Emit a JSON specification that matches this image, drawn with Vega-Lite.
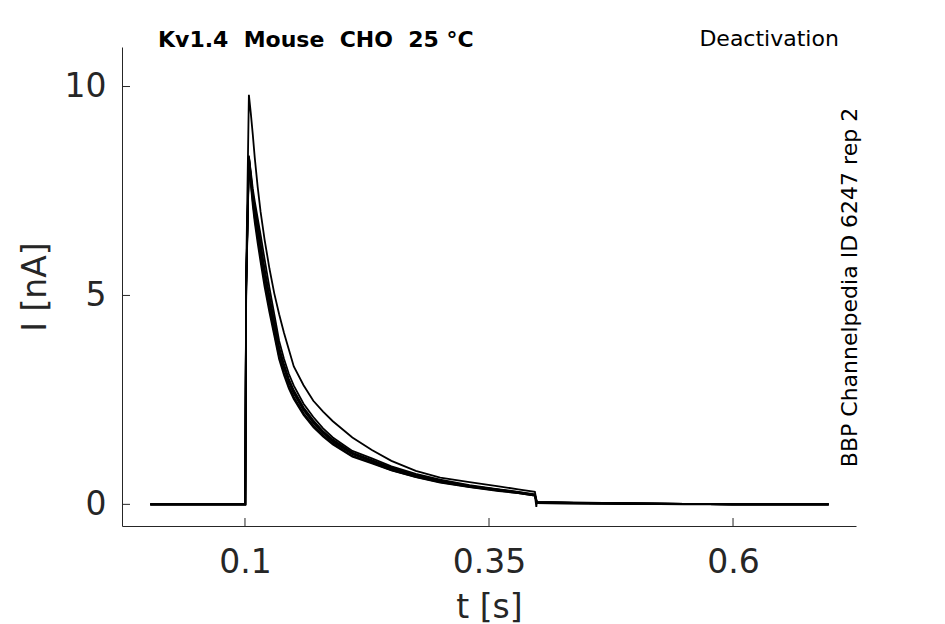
{
  "$schema": "https://vega.github.io/schema/vega-lite/v6.json",
  "autosize": "none",
  "width": 734,
  "height": 479,
  "padding": {"left": 122, "top": 47, "right": 89, "bottom": 98},
  "background": "white",
  "config": {
    "view": {"stroke": null},
    "font": "DejaVu Sans",
    "axis": {
      "grid": false,
      "ticks": false,
      "domainColor": "#262626",
      "labelColor": "#262626",
      "titleColor": "#262626",
      "labelFont": "DejaVu Sans",
      "titleFont": "DejaVu Sans",
      "labelFontSize": 33,
      "titleFontSize": 33,
      "titleFontWeight": "normal",
      "domainWidth": 1
    }
  },
  "datasets": {
    "traces": [
      {"trace": "a", "t": 0.003, "i": 0}, {"trace": "a", "t": 0.1003, "i": 0}, {"trace": "a", "t": 0.1012, "i": 5.5},
      {"trace": "a", "t": 0.104, "i": 9.8}, {"trace": "a", "t": 0.106, "i": 9.35}, {"trace": "a", "t": 0.108, "i": 8.85},
      {"trace": "a", "t": 0.11, "i": 8.3}, {"trace": "a", "t": 0.113, "i": 7.6}, {"trace": "a", "t": 0.116, "i": 7.0},
      {"trace": "a", "t": 0.12, "i": 6.35}, {"trace": "a", "t": 0.125, "i": 5.65}, {"trace": "a", "t": 0.13, "i": 5.05},
      {"trace": "a", "t": 0.135, "i": 4.55}, {"trace": "a", "t": 0.14, "i": 4.1}, {"trace": "a", "t": 0.145, "i": 3.7},
      {"trace": "a", "t": 0.15, "i": 3.3}, {"trace": "a", "t": 0.16, "i": 2.85}, {"trace": "a", "t": 0.17, "i": 2.48},
      {"trace": "a", "t": 0.18, "i": 2.22}, {"trace": "a", "t": 0.19, "i": 1.99}, {"trace": "a", "t": 0.21, "i": 1.6},
      {"trace": "a", "t": 0.23, "i": 1.3}, {"trace": "a", "t": 0.25, "i": 1.04}, {"trace": "a", "t": 0.275, "i": 0.8},
      {"trace": "a", "t": 0.3, "i": 0.64}, {"trace": "a", "t": 0.33, "i": 0.53}, {"trace": "a", "t": 0.36, "i": 0.43},
      {"trace": "a", "t": 0.38, "i": 0.36}, {"trace": "a", "t": 0.397, "i": 0.3}, {"trace": "a", "t": 0.399, "i": 0.06},
      {"trace": "a", "t": 0.45, "i": 0.04}, {"trace": "a", "t": 0.5, "i": 0.02}, {"trace": "a", "t": 0.55, "i": 0.01},
      {"trace": "a", "t": 0.6, "i": 0}, {"trace": "a", "t": 0.65, "i": 0}, {"trace": "a", "t": 0.698, "i": 0},

      {"trace": "b", "t": 0.003, "i": 0}, {"trace": "b", "t": 0.1003, "i": 0}, {"trace": "b", "t": 0.1012, "i": 5.2},
      {"trace": "b", "t": 0.104, "i": 8.3}, {"trace": "b", "t": 0.106, "i": 7.8}, {"trace": "b", "t": 0.108, "i": 7.35},
      {"trace": "b", "t": 0.11, "i": 7.0}, {"trace": "b", "t": 0.113, "i": 6.55}, {"trace": "b", "t": 0.116, "i": 6.1},
      {"trace": "b", "t": 0.12, "i": 5.5}, {"trace": "b", "t": 0.125, "i": 4.85}, {"trace": "b", "t": 0.13, "i": 4.25},
      {"trace": "b", "t": 0.135, "i": 3.65}, {"trace": "b", "t": 0.14, "i": 3.25}, {"trace": "b", "t": 0.145, "i": 2.92},
      {"trace": "b", "t": 0.15, "i": 2.65}, {"trace": "b", "t": 0.16, "i": 2.25}, {"trace": "b", "t": 0.17, "i": 1.95},
      {"trace": "b", "t": 0.18, "i": 1.7}, {"trace": "b", "t": 0.19, "i": 1.5}, {"trace": "b", "t": 0.21, "i": 1.2},
      {"trace": "b", "t": 0.23, "i": 1.03}, {"trace": "b", "t": 0.25, "i": 0.85}, {"trace": "b", "t": 0.275, "i": 0.68},
      {"trace": "b", "t": 0.3, "i": 0.55}, {"trace": "b", "t": 0.33, "i": 0.43}, {"trace": "b", "t": 0.36, "i": 0.34},
      {"trace": "b", "t": 0.38, "i": 0.28}, {"trace": "b", "t": 0.397, "i": 0.22}, {"trace": "b", "t": 0.3985, "i": -0.06},
      {"trace": "b", "t": 0.399, "i": 0.05}, {"trace": "b", "t": 0.45, "i": 0.03}, {"trace": "b", "t": 0.5, "i": 0.02},
      {"trace": "b", "t": 0.55, "i": 0.01}, {"trace": "b", "t": 0.6, "i": 0}, {"trace": "b", "t": 0.65, "i": 0},
      {"trace": "b", "t": 0.698, "i": 0},

      {"trace": "c", "t": 0.003, "i": 0}, {"trace": "c", "t": 0.1003, "i": 0}, {"trace": "c", "t": 0.1012, "i": 5.3},
      {"trace": "c", "t": 0.104, "i": 8.35}, {"trace": "c", "t": 0.106, "i": 7.88}, {"trace": "c", "t": 0.108, "i": 7.45},
      {"trace": "c", "t": 0.11, "i": 7.12}, {"trace": "c", "t": 0.113, "i": 6.7}, {"trace": "c", "t": 0.116, "i": 6.25},
      {"trace": "c", "t": 0.12, "i": 5.65}, {"trace": "c", "t": 0.125, "i": 5.0}, {"trace": "c", "t": 0.13, "i": 4.38},
      {"trace": "c", "t": 0.135, "i": 3.76}, {"trace": "c", "t": 0.14, "i": 3.35}, {"trace": "c", "t": 0.145, "i": 3.0},
      {"trace": "c", "t": 0.15, "i": 2.73}, {"trace": "c", "t": 0.16, "i": 2.32}, {"trace": "c", "t": 0.17, "i": 2.01},
      {"trace": "c", "t": 0.18, "i": 1.75}, {"trace": "c", "t": 0.19, "i": 1.55}, {"trace": "c", "t": 0.21, "i": 1.24},
      {"trace": "c", "t": 0.23, "i": 1.06}, {"trace": "c", "t": 0.25, "i": 0.88}, {"trace": "c", "t": 0.275, "i": 0.7},
      {"trace": "c", "t": 0.3, "i": 0.57}, {"trace": "c", "t": 0.33, "i": 0.44}, {"trace": "c", "t": 0.36, "i": 0.35},
      {"trace": "c", "t": 0.38, "i": 0.29}, {"trace": "c", "t": 0.397, "i": 0.23}, {"trace": "c", "t": 0.399, "i": 0.05},
      {"trace": "c", "t": 0.45, "i": 0.03}, {"trace": "c", "t": 0.5, "i": 0.02}, {"trace": "c", "t": 0.55, "i": 0.01},
      {"trace": "c", "t": 0.6, "i": 0}, {"trace": "c", "t": 0.65, "i": 0}, {"trace": "c", "t": 0.698, "i": 0},

      {"trace": "d", "t": 0.003, "i": 0}, {"trace": "d", "t": 0.1003, "i": 0}, {"trace": "d", "t": 0.1012, "i": 5.1},
      {"trace": "d", "t": 0.104, "i": 8.25}, {"trace": "d", "t": 0.106, "i": 7.72}, {"trace": "d", "t": 0.108, "i": 7.25},
      {"trace": "d", "t": 0.11, "i": 6.85}, {"trace": "d", "t": 0.113, "i": 6.38}, {"trace": "d", "t": 0.116, "i": 5.93},
      {"trace": "d", "t": 0.12, "i": 5.33}, {"trace": "d", "t": 0.125, "i": 4.7}, {"trace": "d", "t": 0.13, "i": 4.12},
      {"trace": "d", "t": 0.135, "i": 3.54}, {"trace": "d", "t": 0.14, "i": 3.15}, {"trace": "d", "t": 0.145, "i": 2.83},
      {"trace": "d", "t": 0.15, "i": 2.57}, {"trace": "d", "t": 0.16, "i": 2.18}, {"trace": "d", "t": 0.17, "i": 1.89},
      {"trace": "d", "t": 0.18, "i": 1.65}, {"trace": "d", "t": 0.19, "i": 1.46}, {"trace": "d", "t": 0.21, "i": 1.16},
      {"trace": "d", "t": 0.23, "i": 1.0}, {"trace": "d", "t": 0.25, "i": 0.82}, {"trace": "d", "t": 0.275, "i": 0.66},
      {"trace": "d", "t": 0.3, "i": 0.53}, {"trace": "d", "t": 0.33, "i": 0.42}, {"trace": "d", "t": 0.36, "i": 0.33},
      {"trace": "d", "t": 0.38, "i": 0.27}, {"trace": "d", "t": 0.397, "i": 0.21}, {"trace": "d", "t": 0.399, "i": 0.03},
      {"trace": "d", "t": 0.45, "i": 0.02}, {"trace": "d", "t": 0.5, "i": 0.01}, {"trace": "d", "t": 0.55, "i": 0.01},
      {"trace": "d", "t": 0.6, "i": 0}, {"trace": "d", "t": 0.65, "i": 0}, {"trace": "d", "t": 0.698, "i": 0},

      {"trace": "e", "t": 0.003, "i": 0}, {"trace": "e", "t": 0.1003, "i": 0}, {"trace": "e", "t": 0.1012, "i": 5.0},
      {"trace": "e", "t": 0.104, "i": 8.2}, {"trace": "e", "t": 0.106, "i": 7.65}, {"trace": "e", "t": 0.108, "i": 7.15},
      {"trace": "e", "t": 0.11, "i": 6.75}, {"trace": "e", "t": 0.113, "i": 6.25}, {"trace": "e", "t": 0.116, "i": 5.8},
      {"trace": "e", "t": 0.12, "i": 5.22}, {"trace": "e", "t": 0.125, "i": 4.6}, {"trace": "e", "t": 0.13, "i": 4.04},
      {"trace": "e", "t": 0.135, "i": 3.47}, {"trace": "e", "t": 0.14, "i": 3.09}, {"trace": "e", "t": 0.145, "i": 2.77},
      {"trace": "e", "t": 0.15, "i": 2.52}, {"trace": "e", "t": 0.16, "i": 2.14}, {"trace": "e", "t": 0.17, "i": 1.85},
      {"trace": "e", "t": 0.18, "i": 1.62}, {"trace": "e", "t": 0.19, "i": 1.43}, {"trace": "e", "t": 0.21, "i": 1.14},
      {"trace": "e", "t": 0.23, "i": 0.98}, {"trace": "e", "t": 0.25, "i": 0.81}, {"trace": "e", "t": 0.275, "i": 0.65},
      {"trace": "e", "t": 0.3, "i": 0.52}, {"trace": "e", "t": 0.33, "i": 0.41}, {"trace": "e", "t": 0.36, "i": 0.32},
      {"trace": "e", "t": 0.38, "i": 0.27}, {"trace": "e", "t": 0.397, "i": 0.21}, {"trace": "e", "t": 0.399, "i": 0.03},
      {"trace": "e", "t": 0.45, "i": 0.02}, {"trace": "e", "t": 0.5, "i": 0.01}, {"trace": "e", "t": 0.55, "i": 0},
      {"trace": "e", "t": 0.6, "i": 0}, {"trace": "e", "t": 0.65, "i": 0}, {"trace": "e", "t": 0.698, "i": 0},

      {"trace": "f", "t": 0.003, "i": 0}, {"trace": "f", "t": 0.1003, "i": 0}, {"trace": "f", "t": 0.1012, "i": 5.2},
      {"trace": "f", "t": 0.104, "i": 8.3}, {"trace": "f", "t": 0.106, "i": 7.84}, {"trace": "f", "t": 0.108, "i": 7.4},
      {"trace": "f", "t": 0.11, "i": 7.07}, {"trace": "f", "t": 0.113, "i": 6.63}, {"trace": "f", "t": 0.116, "i": 6.18},
      {"trace": "f", "t": 0.12, "i": 5.58}, {"trace": "f", "t": 0.125, "i": 4.92}, {"trace": "f", "t": 0.13, "i": 4.31},
      {"trace": "f", "t": 0.135, "i": 3.7}, {"trace": "f", "t": 0.14, "i": 3.3}, {"trace": "f", "t": 0.145, "i": 2.96},
      {"trace": "f", "t": 0.15, "i": 2.69}, {"trace": "f", "t": 0.16, "i": 2.28}, {"trace": "f", "t": 0.17, "i": 1.98},
      {"trace": "f", "t": 0.18, "i": 1.73}, {"trace": "f", "t": 0.19, "i": 1.52}, {"trace": "f", "t": 0.21, "i": 1.22},
      {"trace": "f", "t": 0.23, "i": 1.05}, {"trace": "f", "t": 0.25, "i": 0.86}, {"trace": "f", "t": 0.275, "i": 0.69},
      {"trace": "f", "t": 0.3, "i": 0.56}, {"trace": "f", "t": 0.33, "i": 0.44}, {"trace": "f", "t": 0.36, "i": 0.35},
      {"trace": "f", "t": 0.38, "i": 0.28}, {"trace": "f", "t": 0.397, "i": 0.22}, {"trace": "f", "t": 0.399, "i": 0.04},
      {"trace": "f", "t": 0.45, "i": 0.03}, {"trace": "f", "t": 0.5, "i": 0.02}, {"trace": "f", "t": 0.55, "i": 0.01},
      {"trace": "f", "t": 0.6, "i": 0}, {"trace": "f", "t": 0.65, "i": 0}, {"trace": "f", "t": 0.698, "i": 0},

      {"trace": "g", "t": 0.003, "i": 0}, {"trace": "g", "t": 0.1003, "i": 0}, {"trace": "g", "t": 0.1012, "i": 5.3},
      {"trace": "g", "t": 0.104, "i": 8.32}, {"trace": "g", "t": 0.106, "i": 7.95}, {"trace": "g", "t": 0.108, "i": 7.55},
      {"trace": "g", "t": 0.11, "i": 7.25}, {"trace": "g", "t": 0.113, "i": 6.85}, {"trace": "g", "t": 0.116, "i": 6.45},
      {"trace": "g", "t": 0.12, "i": 5.88}, {"trace": "g", "t": 0.125, "i": 5.19}, {"trace": "g", "t": 0.13, "i": 4.55},
      {"trace": "g", "t": 0.135, "i": 3.91}, {"trace": "g", "t": 0.14, "i": 3.48}, {"trace": "g", "t": 0.145, "i": 3.12},
      {"trace": "g", "t": 0.15, "i": 2.84}, {"trace": "g", "t": 0.16, "i": 2.41}, {"trace": "g", "t": 0.17, "i": 2.09},
      {"trace": "g", "t": 0.18, "i": 1.82}, {"trace": "g", "t": 0.19, "i": 1.6}, {"trace": "g", "t": 0.21, "i": 1.28},
      {"trace": "g", "t": 0.23, "i": 1.1}, {"trace": "g", "t": 0.25, "i": 0.91}, {"trace": "g", "t": 0.275, "i": 0.73},
      {"trace": "g", "t": 0.3, "i": 0.59}, {"trace": "g", "t": 0.33, "i": 0.46}, {"trace": "g", "t": 0.36, "i": 0.36},
      {"trace": "g", "t": 0.38, "i": 0.3}, {"trace": "g", "t": 0.397, "i": 0.24}, {"trace": "g", "t": 0.399, "i": 0.05},
      {"trace": "g", "t": 0.45, "i": 0.03}, {"trace": "g", "t": 0.5, "i": 0.02}, {"trace": "g", "t": 0.55, "i": 0.01},
      {"trace": "g", "t": 0.6, "i": 0}, {"trace": "g", "t": 0.65, "i": 0}, {"trace": "g", "t": 0.698, "i": 0}
    ],
    "xticks": [{"t": 0.1}, {"t": 0.35}, {"t": 0.6}],
    "yticks": [{"i": 0}, {"i": 5}, {"i": 10}],
    "notes": [
      {"text": "Kv1.4\u00a0\u00a0Mouse\u00a0\u00a0CHO\u00a0\u00a025\u00a0°C", "kind": "title"},
      {"text": "Deactivation", "kind": "protocol"},
      {"text": "BBP Channelpedia ID 6247 rep 2", "kind": "source"}
    ]
  },
  "layer": [
    {
      "data": {"name": "traces"},
      "mark": {"type": "line", "color": "black", "strokeWidth": 1.8, "clip": true},
      "encoding": {
        "x": {
          "field": "t",
          "type": "quantitative",
          "title": "t [s]",
          "scale": {"domain": [-0.026, 0.726], "nice": false, "zero": false},
          "axis": {"values": [0.1, 0.35, 0.6], "format": "~r", "labelPadding": 20, "titlePadding": 12, "labelFlush": false}
        },
        "y": {
          "field": "i",
          "type": "quantitative",
          "title": "I [nA]",
          "scale": {"domain": [-0.518, 10.946], "nice": false, "zero": false},
          "axis": {"values": [0, 5, 10], "format": "~r", "labelPadding": 16, "titlePadding": 12, "labelFlush": false}
        },
        "detail": {"field": "trace"}
      }
    },
    {
      "data": {"name": "xticks"},
      "mark": {"type": "rule", "color": "#262626", "strokeWidth": 1},
      "encoding": {
        "x": {"field": "t", "type": "quantitative"},
        "y": {"datum": -0.518},
        "y2": {"datum": -0.327}
      }
    },
    {
      "data": {"name": "yticks"},
      "mark": {"type": "rule", "color": "#262626", "strokeWidth": 1},
      "encoding": {
        "y": {"field": "i", "type": "quantitative"},
        "x": {"datum": -0.026},
        "x2": {"datum": -0.0178}
      }
    },
    {
      "data": {"name": "notes"},
      "transform": [{"filter": "datum.kind === 'title'"}],
      "mark": {"type": "text", "align": "left", "baseline": "alphabetic", "fontSize": 22, "fontWeight": "bold", "color": "black", "font": "DejaVu Sans"},
      "encoding": {
        "x": {"datum": 0.0109},
        "y": {"datum": 10.946},
        "text": {"field": "text"}
      }
    },
    {
      "data": {"name": "notes"},
      "transform": [{"filter": "datum.kind === 'protocol'"}],
      "mark": {"type": "text", "align": "center", "baseline": "alphabetic", "fontSize": 22, "color": "black", "font": "DejaVu Sans"},
      "encoding": {
        "x": {"datum": 0.637},
        "y": {"datum": 10.97},
        "text": {"field": "text"}
      }
    },
    {
      "data": {"name": "notes"},
      "transform": [{"filter": "datum.kind === 'source'"}],
      "mark": {"type": "text", "align": "center", "baseline": "alphabetic", "angle": 270, "fontSize": 22, "color": "black", "font": "DejaVu Sans"},
      "encoding": {
        "x": {"datum": 0.727},
        "y": {"datum": 5.19},
        "text": {"field": "text"}
      }
    }
  ]
}
